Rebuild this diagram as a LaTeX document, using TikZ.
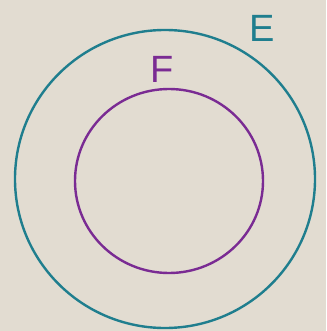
\documentclass[tikz,border=0pt]{standalone}
\usepackage{fontspec}
\setmainfont{Liberation Sans}
\definecolor{paper}{HTML}{E2DCD1}
\definecolor{tealink}{HTML}{1F7E8E}
\definecolor{purpleink}{HTML}{7A2B93}
\begin{document}
\begin{tikzpicture}[x=1pt,y=-1pt,
  setline/.style={line width=2.4pt},
  setlabel/.style={font=\fontsize{38}{38}\selectfont}]
\fill[paper] (0,0) rectangle (326,331);
\useasboundingbox (0,0) rectangle (326,331);
\draw[setline,tealink] (165,179) ellipse [x radius=150, y radius=149];
\draw[setline,purpleink] (169,181) ellipse [x radius=94, y radius=92];
\node[setlabel,text=tealink] (E) at (262,28) {E};
\node[setlabel,text=purpleink] (F) at (162,69) {F};
\end{tikzpicture}
\end{document}
